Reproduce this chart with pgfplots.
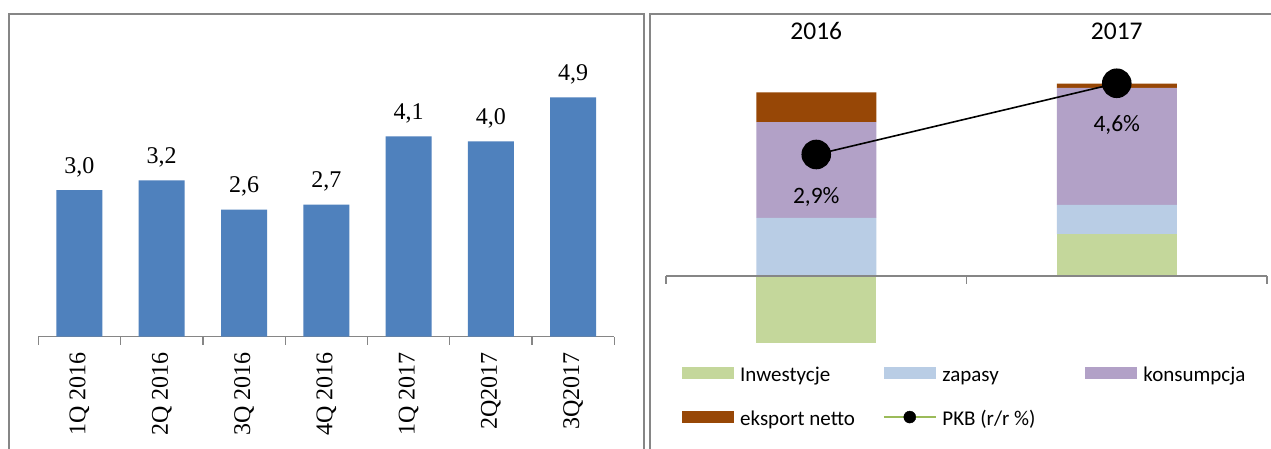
\documentclass[border=0pt]{standalone}
\usepackage{pgfplots}
\pgfplotsset{compat=1.18}
\usepackage{fontspec}
\setmainfont{Liberation Serif}
\newfontfamily\calibri{Carlito}
\definecolor{barblue}{RGB}{79,129,189}
\definecolor{axisgray}{RGB}{134,134,134}
\definecolor{framegray}{RGB}{134,134,134}
\definecolor{inw}{RGB}{196,215,155}
\definecolor{zap}{RGB}{185,205,229}
\definecolor{kons}{RGB}{178,161,199}
\definecolor{eksp}{RGB}{151,71,6}
\definecolor{pkbgreen}{RGB}{155,187,89}
\begin{document}
\begin{tikzpicture}
\clip (0pt,0pt) rectangle (1271pt,448pt);
\fill[white] (0pt,0pt) rectangle (1271pt,448pt);
\draw[framegray, line width=1.8pt] (9pt,-10pt) -- (9pt,434pt) -- (644pt,434pt) -- (644pt,-10pt);
\draw[framegray, line width=1.8pt] (650pt,-10pt) -- (650pt,434pt) -- (1290pt,434pt);
% ---------------- left panel ----------------
\begin{axis}[
  scale only axis, at={(38.3pt,111.5pt)}, anchor=south west,
  width=576pt, height=292.8pt,
  xmin=-0.5, xmax=6.5, ymin=0, ymax=6,
  axis y line=none, axis x line*=bottom,
  x axis line style={draw=axisgray, line width=1.3pt, -},
  ybar, bar width=46pt,
  xtick={0,...,6},
  xticklabels={1Q 2016,2Q 2016,3Q 2016,4Q 2016,1Q 2017,2Q2017,3Q2017},
  major tick length=0pt,
  major x tick style={draw=none},
  minor xtick={-0.5,0.5,...,6.5},
  tick align=outside,
  minor tick length=8pt,
  minor x tick style={draw=axisgray, line width=1.3pt},
  xticklabel style={yshift=-15.5pt, rotate=90, anchor=east, inner sep=0pt, font=\fontsize{24}{28}\selectfont},
  nodes near coords,
  every node near coord/.append style={font=\fontsize{24}{28}\selectfont, anchor=base, inner sep=0pt, yshift=17pt},
  /pgf/number format/.cd, fixed, fixed zerofill, precision=1, use comma, assume math mode=true,
]
\addplot[fill=barblue, draw=none] coordinates {(0,3.0) (1,3.2) (2,2.6) (3,2.7) (4,4.1) (5,4.0) (6,4.9)};
\end{axis}
% ---------------- right panel: stacked positives + legend ----------------
\begin{axis}[
  scale only axis, at={(666pt,88.2pt)}, anchor=south west,
  width=601pt, height=314.25pt,
  xmin=-0.5, xmax=1.5, ymin=-2, ymax=5.5,
  ybar stacked, bar width=120pt,
  axis y line=none, axis x line*=top,
  x axis line style={draw=none},
  xtick={0,1}, xticklabels={2016,2017}, major tick length=0pt,
  xticklabel style={font=\calibri\fontsize{25.5}{30}\selectfont, anchor=base, inner sep=0pt, yshift=6.5pt},
  legend columns=3,
  legend cell align=left,
  legend style={at={(0.0266,-0.005)}, anchor=north west, draw=none, fill=none, inner sep=0pt,
    font=\calibri\fontsize{21}{25}\selectfont,
    /tikz/every odd column/.append style={column sep=4pt},
    /tikz/every even column/.append style={column sep=1pt},
    row sep=21pt},
]
\addplot[fill=inw, draw=none, legend image code/.code={\path[fill=inw] (0pt,-6pt) rectangle (52pt,6pt);}] coordinates {(0,0) (1,1.00)};
\addlegendentry{\makebox[140pt][l]{\strut Inwestycje}}
\addplot[fill=zap, draw=none, legend image code/.code={\path[fill=zap] (0pt,-6pt) rectangle (52pt,6pt);}] coordinates {(0,1.39) (1,0.70)};
\addlegendentry{\makebox[140pt][l]{\strut zapasy}}
\addplot[fill=kons, draw=none, legend image code/.code={\path[fill=kons] (0pt,-6pt) rectangle (52pt,6pt);}] coordinates {(0,2.28) (1,2.79)};
\addlegendentry{\makebox[140pt][l]{\strut konsumpcja}}
\addplot[fill=eksp, draw=none, legend image code/.code={\path[fill=eksp] (0pt,-6pt) rectangle (52pt,6pt);}] coordinates {(0,0.71) (1,0.10)};
\addlegendentry{\makebox[140pt][l]{\strut eksport netto}}
\addlegendimage{legend image code/.code={\draw[pkbgreen, line width=1.2pt] (0pt,0pt) -- (52pt,0pt); \fill[black] (26pt,0pt) circle (6pt);}}
\addlegendentry{\makebox[140pt][l]{\strut PKB (r/r \%)}}
\end{axis}
% ---------------- right panel: negative part, axis line, PKB ----------------
\begin{axis}[
  scale only axis, at={(666pt,88.2pt)}, anchor=south west,
  width=601pt, height=314.25pt,
  xmin=-0.5, xmax=1.5, ymin=-2, ymax=5.5,
  hide axis, clip=false,
  /pgf/number format/.cd, fixed, fixed zerofill, precision=1, use comma, assume math mode=true,
]
\addplot[ybar, bar width=120pt, bar shift=0pt, fill=inw, draw=none] coordinates {(0,-1.61)};
\draw[axisgray, line width=1.3pt] (axis cs:-0.5,0) -- (axis cs:1.5,0);
\draw[axisgray, line width=1.3pt] (axis cs:-0.5,0) -- ++(0pt,-8pt);
\draw[axisgray, line width=1.3pt] (axis cs:0.5,0) -- ++(0pt,-8pt);
\draw[axisgray, line width=1.3pt] (axis cs:1.5,0) -- ++(0pt,-8pt);
\addplot[black, line width=1.6pt, mark=*, mark size=14pt,
  nodes near coords={\pgfmathprintnumber{\pgfplotspointmeta}\%},
  every node near coord/.append style={font=\calibri\fontsize{23.5}{27}\selectfont, anchor=center, yshift=-42pt}]
  coordinates {(0,2.9) (1,4.6)};
\end{axis}
\end{tikzpicture}
\end{document}
